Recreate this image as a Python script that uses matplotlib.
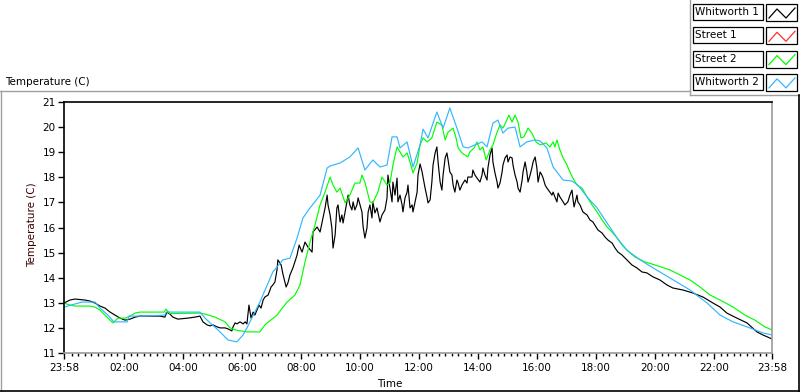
import numpy as np
import matplotlib
matplotlib.use("Agg")
import matplotlib.pyplot as plt
from matplotlib.lines import Line2D
from matplotlib.patches import Rectangle

plt.rcParams['font.family'] = ['DejaVu Sans']
plt.rcParams['font.size'] = 7.5

# (hours after 23:58, temperature C)
whitworth1 = [
    (0.00, 12.99), (0.20, 13.11), (0.37, 13.15), (0.71, 13.11), (0.88, 13.07), (1.05, 12.99),
    (1.22, 12.87), (1.39, 12.79), (1.56, 12.63), (1.73, 12.51), (1.90, 12.39), (2.07, 12.31),
    (2.24, 12.35), (2.41, 12.43), (2.58, 12.47), (2.92, 12.47), (3.25, 12.47), (3.42, 12.43),
    (3.49, 12.63), (3.59, 12.55), (3.69, 12.43), (3.86, 12.35), (4.20, 12.39), (4.44, 12.43),
    (4.61, 12.47), (4.71, 12.24), (4.85, 12.12), (4.95, 12.08), (5.05, 12.12), (5.19, 12.04),
    (5.29, 12.00), (5.46, 12.00), (5.56, 11.96), (5.69, 11.88), (5.73, 12.04), (5.80, 12.20),
    (5.86, 12.16), (5.97, 12.24), (6.07, 12.16), (6.14, 12.24), (6.20, 12.16), (6.27, 12.91),
    (6.34, 12.39), (6.41, 12.63), (6.47, 12.51), (6.54, 12.71), (6.61, 12.91), (6.68, 12.79),
    (6.75, 13.11), (6.81, 13.23), (6.92, 13.31), (7.02, 13.63), (7.08, 13.71), (7.15, 13.83),
    (7.22, 14.31), (7.25, 14.71), (7.36, 14.51), (7.42, 14.15), (7.53, 13.63), (7.59, 13.79),
    (7.66, 14.11), (7.76, 14.39), (7.90, 14.90), (7.97, 15.30), (8.07, 15.02), (8.17, 15.42),
    (8.27, 15.22), (8.41, 15.02), (8.44, 15.82), (8.58, 16.02), (8.68, 15.82), (8.75, 16.22),
    (8.85, 16.78), (8.92, 17.29), (8.95, 16.90), (9.02, 16.50), (9.08, 15.98), (9.12, 15.18),
    (9.19, 15.70), (9.25, 16.78), (9.29, 16.90), (9.36, 16.22), (9.42, 16.50), (9.46, 16.18),
    (9.53, 16.62), (9.59, 17.02), (9.63, 17.29), (9.69, 16.90), (9.76, 16.70), (9.80, 17.02),
    (9.86, 16.70), (9.93, 16.90), (9.97, 17.18), (10.10, 16.62), (10.14, 16.02), (10.20, 15.58),
    (10.27, 15.98), (10.31, 16.62), (10.37, 16.90), (10.44, 16.38), (10.47, 17.02), (10.54, 16.58),
    (10.61, 16.78), (10.71, 16.22), (10.78, 16.50), (10.88, 16.70), (10.95, 17.18), (10.98, 18.09),
    (11.05, 17.57), (11.12, 17.02), (11.15, 17.81), (11.22, 17.29), (11.29, 17.97), (11.32, 17.02),
    (11.39, 17.29), (11.46, 16.90), (11.49, 16.62), (11.56, 17.18), (11.63, 17.41), (11.66, 17.69),
    (11.73, 16.78), (11.80, 16.90), (11.83, 16.62), (11.90, 17.02), (11.97, 17.41), (12.00, 18.09),
    (12.07, 18.53), (12.14, 18.21), (12.17, 18.01), (12.24, 17.57), (12.31, 17.18), (12.34, 16.98),
    (12.41, 17.10), (12.47, 17.81), (12.51, 18.49), (12.58, 18.97), (12.64, 19.21), (12.68, 18.61),
    (12.75, 17.81), (12.81, 17.49), (12.85, 18.09), (12.92, 18.77), (12.98, 18.97), (13.02, 18.69),
    (13.08, 18.21), (13.15, 18.09), (13.19, 17.69), (13.25, 17.41), (13.32, 17.89), (13.36, 17.77),
    (13.42, 17.49), (13.49, 17.69), (13.59, 17.89), (13.66, 17.77), (13.69, 18.01), (13.83, 18.01),
    (13.86, 18.29), (13.93, 18.09), (14.00, 17.97), (14.10, 17.81), (14.17, 18.09), (14.20, 18.37),
    (14.27, 18.09), (14.34, 17.89), (14.37, 18.37), (14.44, 18.89), (14.51, 19.17), (14.54, 18.61),
    (14.61, 18.17), (14.68, 17.81), (14.71, 17.57), (14.78, 17.77), (14.85, 18.21), (14.88, 18.49),
    (14.95, 18.77), (15.02, 18.89), (15.05, 18.61), (15.12, 18.81), (15.19, 18.77), (15.22, 18.49),
    (15.29, 18.09), (15.36, 17.81), (15.39, 17.57), (15.46, 17.41), (15.53, 17.89), (15.56, 18.21),
    (15.63, 18.61), (15.69, 18.21), (15.73, 17.81), (15.80, 18.09), (15.86, 18.37), (15.90, 18.61),
    (15.97, 18.81), (16.03, 18.37), (16.07, 17.81), (16.14, 18.21), (16.20, 18.09), (16.24, 17.97),
    (16.31, 17.69), (16.37, 17.57), (16.47, 17.41), (16.54, 17.29), (16.58, 17.41), (16.64, 17.22),
    (16.71, 17.02), (16.75, 17.37), (16.81, 17.22), (16.92, 17.02), (16.98, 16.90), (17.08, 17.02),
    (17.15, 17.29), (17.22, 17.49), (17.25, 17.18), (17.29, 16.82), (17.39, 17.29), (17.42, 17.02),
    (17.49, 16.90), (17.59, 16.62), (17.73, 16.50), (17.83, 16.30), (17.93, 16.22), (18.10, 15.90),
    (18.24, 15.78), (18.34, 15.62), (18.44, 15.50), (18.58, 15.38), (18.68, 15.18), (18.78, 15.02),
    (18.92, 14.90), (19.08, 14.71), (19.25, 14.51), (19.42, 14.39), (19.59, 14.23), (19.76, 14.19),
    (19.97, 14.03), (20.20, 13.91), (20.44, 13.71), (20.64, 13.59), (20.98, 13.51), (21.32, 13.39),
    (21.66, 13.23), (22.00, 12.99), (22.24, 12.83), (22.47, 12.59), (22.81, 12.39), (23.15, 12.20),
    (23.49, 11.84), (23.69, 11.72), (24.00, 11.56),
]

street1 = []  # listed in the legend, no trace visible

street2 = [
    (0.00, 12.99), (0.20, 12.91), (0.37, 12.87), (0.88, 12.87), (1.05, 12.83), (1.22, 12.71),
    (1.49, 12.39), (1.66, 12.20), (1.83, 12.39), (2.07, 12.39), (2.24, 12.47), (2.41, 12.59),
    (2.58, 12.63), (3.39, 12.63), (3.46, 12.75), (3.59, 12.57), (4.61, 12.59), (4.78, 12.55),
    (5.12, 12.43), (5.46, 12.24), (5.63, 12.00), (5.80, 11.92), (6.20, 11.84), (6.64, 11.84),
    (6.81, 12.12), (7.22, 12.51), (7.56, 13.03), (7.83, 13.31), (8.00, 13.71), (8.17, 14.63),
    (8.34, 15.42), (8.51, 16.10), (8.68, 16.90), (8.85, 17.41), (9.02, 18.01), (9.12, 17.69),
    (9.25, 17.41), (9.36, 17.57), (9.46, 17.22), (9.53, 16.98), (9.69, 17.29), (9.86, 17.77),
    (10.03, 17.77), (10.10, 18.09), (10.20, 17.81), (10.31, 17.29), (10.37, 17.02), (10.47, 16.98),
    (10.64, 17.41), (10.78, 18.01), (10.95, 17.69), (11.05, 17.77), (11.15, 18.49), (11.29, 19.21),
    (11.39, 19.01), (11.49, 18.81), (11.63, 18.97), (11.73, 18.61), (11.83, 18.17), (11.97, 18.57),
    (12.07, 19.29), (12.17, 19.57), (12.31, 19.41), (12.47, 19.57), (12.64, 20.20), (12.81, 20.08),
    (12.92, 19.49), (13.02, 19.80), (13.19, 19.96), (13.29, 19.57), (13.36, 19.17), (13.49, 18.97),
    (13.69, 18.81), (13.76, 19.01), (13.90, 19.17), (14.00, 19.41), (14.10, 19.09), (14.20, 19.21),
    (14.31, 18.69), (14.44, 19.09), (14.54, 19.29), (14.68, 19.80), (14.78, 20.08), (14.88, 19.96),
    (14.98, 20.20), (15.08, 20.48), (15.19, 20.20), (15.29, 20.48), (15.39, 20.20), (15.49, 19.57),
    (15.59, 19.61), (15.73, 19.96), (15.86, 19.76), (16.00, 19.41), (16.14, 19.29), (16.34, 19.37),
    (16.47, 19.21), (16.58, 19.41), (16.64, 19.21), (16.71, 19.49), (16.81, 19.09), (16.92, 18.77),
    (17.05, 18.49), (17.15, 18.21), (17.25, 17.97), (17.39, 17.69), (17.56, 17.57), (17.73, 17.22),
    (17.90, 16.90), (18.07, 16.62), (18.24, 16.30), (18.41, 16.02), (18.58, 15.82), (18.75, 15.58),
    (18.92, 15.30), (19.08, 15.10), (19.36, 14.82), (19.69, 14.63), (20.03, 14.51), (20.54, 14.31),
    (21.22, 13.91), (21.56, 13.63), (21.90, 13.31), (22.24, 13.11), (22.68, 12.83), (23.08, 12.51),
    (23.42, 12.31), (23.76, 12.04), (24.00, 11.92),
]

whitworth2 = [
    (0.00, 12.83), (0.61, 13.03), (1.05, 13.03), (1.22, 12.79), (1.49, 12.51), (1.69, 12.24),
    (2.14, 12.24), (2.20, 12.47), (2.75, 12.47), (3.42, 12.51), (3.46, 12.63), (4.61, 12.63),
    (4.78, 12.39), (4.95, 12.20), (5.22, 11.92), (5.56, 11.52), (5.86, 11.44), (6.07, 11.72),
    (6.20, 12.00), (6.64, 13.03), (7.08, 14.23), (7.42, 14.71), (7.66, 14.78), (7.90, 15.58),
    (8.10, 16.38), (8.34, 16.78), (8.68, 17.29), (8.92, 18.37), (9.02, 18.45), (9.36, 18.57),
    (9.69, 18.81), (9.97, 19.17), (10.20, 18.29), (10.47, 18.69), (10.71, 18.41), (10.95, 18.49),
    (11.12, 19.61), (11.29, 19.61), (11.39, 19.17), (11.63, 19.41), (11.83, 18.41), (12.07, 19.29),
    (12.17, 19.92), (12.34, 19.57), (12.64, 20.60), (12.85, 19.96), (13.08, 20.76), (13.32, 19.96),
    (13.53, 19.21), (13.69, 19.17), (13.93, 19.29), (14.17, 19.41), (14.34, 19.21), (14.54, 20.16),
    (14.71, 20.28), (14.88, 19.76), (15.05, 19.96), (15.29, 20.00), (15.46, 19.21), (15.69, 19.41),
    (15.97, 19.49), (16.14, 19.45), (16.37, 19.17), (16.58, 18.41), (16.92, 17.89), (17.22, 17.85),
    (17.42, 17.69), (17.73, 17.22), (18.07, 16.78), (18.41, 16.18), (18.75, 15.58), (19.08, 15.10),
    (19.53, 14.71), (19.97, 14.39), (20.54, 13.99), (21.22, 13.51), (21.80, 12.99), (22.24, 12.51),
    (22.68, 12.24), (23.25, 12.00), (23.69, 11.80), (24.00, 11.72),
]

series_names = ["Whitworth 1", "Street 1", "Street 2", "Whitworth 2"]
series_data = [whitworth1, street1, street2, whitworth2]
series_colors = ["#000000", "#ff3030", "#00ff00", "#33b6ff"]

time_labels = ["23:58", "02:00", "04:00", "06:00", "08:00", "10:00", "12:00",
               "14:00", "16:00", "18:00", "20:00", "22:00", "23:58"]
temp_ticks = list(range(11, 22))


def hours_after_start(label, i):
    h, m = map(int, label.split(":"))
    if i == 0:
        return 0.0
    return h + (m + 2) / 60.0


W, H = 800, 392
fig = plt.figure(figsize=(W / 100, H / 100), dpi=100)
ax = fig.add_axes([64 / W, 1 - 353 / H, 708 / W, 251 / H])

for name, data, col in zip(series_names, series_data, series_colors):
    t = [p[0] for p in data]
    v = [p[1] for p in data]
    ax.plot(t, v, color=col, lw=0.85, label=name)

ax.set_xlim(0, 24)
ax.set_ylim(11, 21)

xt = [hours_after_start(l, i) for i, l in enumerate(time_labels)]
ax.set_xticks(xt)
ax.set_xticklabels(time_labels)
minor = [xt[1] + k * 2 / 9 for k in range(-9, 100)]
minor = [m for m in minor if 0 < m < 24 and min(abs(m - x) for x in xt) > 0.05]
ax.set_xticks(minor, minor=True)
ax.set_yticks(temp_ticks)

ax.tick_params(axis='both', which='major', direction='out', length=4, width=1,
               color='black', labelsize=7.5, pad=2)
ax.tick_params(axis='x', which='minor', direction='out', length=2.2, width=1, color='black')
ax.tick_params(axis='x', pad=3)

for s in ['left', 'top']:
    ax.spines[s].set_color('black')
    ax.spines[s].set_linewidth(1.2)
for s in ['right', 'bottom']:
    ax.spines[s].set_color('#9a9a9a')
    ax.spines[s].set_linewidth(1.2)

fig.text(5 / W, 1 - 82 / H, "Temperature (C)", ha='left', va='center', fontsize=7.5)
fig.text(32 / W, 1 - 225 / H, "Temperature (C)", ha='center', va='center',
         rotation=90, fontsize=7.5, color='#3a0000')
fig.text(390 / W, 1 - 384 / H, "Time", ha='center', va='center', fontsize=7.5)

# panel frame
def fline(xs, ys, col, lw=1.0):
    fig.add_artist(Line2D([x / W for x in xs], [1 - y / H for y in ys],
                          color=col, lw=lw, transform=fig.transFigure))

fline([1, 1], [91, 392], '#a0a0a0')
fline([0, 690], [91, 91], '#a0a0a0')
fline([690, 690], [0, 95], '#a0a0a0')
fline([690, 800], [95, 95], '#a0a0a0')
fline([0, 800], [390.5, 390.5], '#000000', 1.2)
fline([798.5, 798.5], [95, 392], '#000000', 1.2)

# legend boxes
for i, (name, col) in enumerate(zip(series_names, series_colors)):
    top = 4 + i * 23.3
    hgt = 16
    fig.add_artist(Rectangle((693 / W, 1 - (top + hgt) / H), 70 / W, hgt / H,
                             transform=fig.transFigure, fill=False, ec='black', lw=0.9))
    fig.text(695 / W, 1 - (top + hgt / 2) / H, name, ha='left', va='center', fontsize=7.5)
    fig.add_artist(Rectangle((766 / W, 1 - (top + hgt + 1) / H), 31 / W, (hgt + 1) / H,
                             transform=fig.transFigure, fill=False, ec='black', lw=0.9))
    zx = [769, 777, 786, 795]
    zy = [top + 14, top + 5, top + 14, top + 4]
    fline(zx, zy, col, 0.9)

fig.savefig("out.png", dpi=100)
